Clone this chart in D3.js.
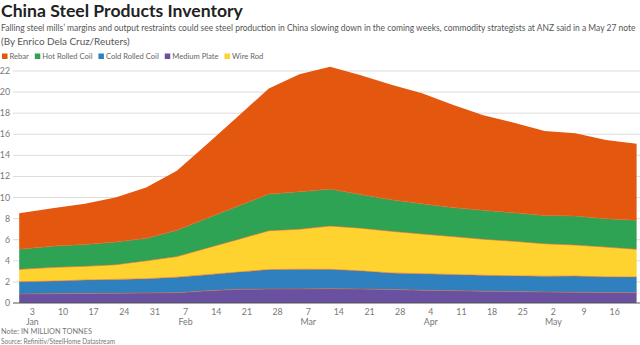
<!DOCTYPE html>
<html>
<head>
<meta charset="utf-8">
<script src="https://cdn.jsdelivr.net/npm/d3@7"></script>
<style>
  body { margin: 0; background: #fff; }
  svg { display: block; font-family: Lato, "Open Sans", sans-serif; }
  .title { font-weight: 700; font-size: 17.6px; fill: #222; }
  .sub { font-size: 9.9px; fill: #555; }
  .legend text { font-size: 7.6px; fill: #666; }
  .axis text { font-size: 8.8px; fill: #777; }
  .note { font-size: 7.4px; fill: #777; }
</style>
</head>
<body>
<div id="chart"></div>
<script>
// Weekly inventory, million tonnes (Fridays)
const dates = ['2020-12-31', '2021-01-08', '2021-01-15', '2021-01-22', '2021-01-29', '2021-02-05',
    '2021-02-12', '2021-02-19', '2021-02-26', '2021-03-05', '2021-03-12', '2021-03-19', '2021-03-26',
    '2021-04-02', '2021-04-09', '2021-04-16', '2021-04-23', '2021-04-30', '2021-05-07', '2021-05-14', '2021-05-21']

const mediumPlate   = [0.85, 0.88, 0.90, 0.92, 0.95, 0.98, 1.15, 1.30, 1.32, 1.33, 1.35, 1.32, 1.27, 1.22, 1.17, 1.12, 1.08, 1.04, 1.03, 1.00, 0.98]
const coldRolled    = [1.17, 1.20, 1.28, 1.32, 1.35, 1.47, 1.54, 1.63, 1.85, 1.87, 1.84, 1.73, 1.58, 1.56, 1.53, 1.51, 1.50, 1.50, 1.52, 1.48, 1.48]
const wireRod       = [1.17, 1.30, 1.30, 1.39, 1.70, 1.95, 2.53, 3.10, 3.68, 3.80, 4.11, 4.05, 3.95, 3.77, 3.60, 3.42, 3.27, 3.08, 2.95, 2.82, 2.64]
const hotRolled     = [1.91, 2.02, 2.07, 2.15, 2.13, 2.50, 2.83, 3.17, 3.48, 3.55, 3.50, 3.20, 3.00, 2.85, 2.75, 2.75, 2.70, 2.68, 2.75, 2.70, 2.75]
const rebar         = [3.40, 3.60, 3.85, 4.22, 4.82, 5.65, 7.05, 8.50, 10.02, 11.15, 11.60, 11.30, 10.90, 10.50, 9.75, 9.00, 8.55, 8.00, 7.85, 7.45, 7.25]

const seriesNames  = ['Rebar', 'Hot Rolled Coil', 'Cold Rolled Coil', 'Medium Plate', 'Wire Rod']
const seriesColors = ['#e4570e', '#2fa354', '#2f80bf', '#6a50a0', '#fed330']
// bottom to top
const stackOrder = ['Medium Plate', 'Cold Rolled Coil', 'Wire Rod', 'Hot Rolled Coil', 'Rebar']

const yTicks = [0, 2, 4, 6, 8, 10, 12, 14, 16, 18, 20, 22]
const monthLabels = { '2021-01-03': 'Jan', '2021-02-07': 'Feb', '2021-03-07': 'Mar', '2021-04-04': 'Apr', '2021-05-02': 'May' }

const W = 640, H = 345
const parse = d3.timeParse('%Y-%m-%d')
const fmtKey = d3.timeFormat('%Y-%m-%d')

const rows = dates.map((d, i) => ({
    date: parse(d),
    'Medium Plate': mediumPlate[i],
    'Cold Rolled Coil': coldRolled[i],
    'Wire Rod': wireRod[i],
    'Hot Rolled Coil': hotRolled[i],
    'Rebar': rebar[i],
}))

const color = d3.scaleOrdinal().domain(seriesNames).range(seriesColors)

const x = d3.scaleTime()
    .domain(d3.extent(rows, d => d.date))
    .range([19.2, 636.6])

const y = d3.scaleLinear()
    .domain([0, 22])
    .range([303, 71])

const svg = d3.select('#chart').append('svg')
    .attr('width', W)
    .attr('height', H)

// Headings //
svg.append('text').attr('class', 'title').attr('x', 1).attr('y', 16.5).text('China Steel Products Inventory')

// the long subtitle is squeezed horizontally so it fits on one line
const sub = svg.append('text').attr('class', 'sub')
    .text('Falling steel mills\u2019 margins and output restraints could see steel production in China slowing down in the coming weeks, commodity strategists at ANZ said in a May 27 note')
const subWidth = sub.node().getComputedTextLength()
sub.attr('transform', `translate(1,30.5) scale(${634 / subWidth},1)`)

svg.append('text').attr('class', 'sub').attr('x', 1).attr('y', 44.5).text('(By Enrico Dela Cruz/Reuters)')

// Legend //
const legend = svg.append('g').attr('class', 'legend').attr('transform', 'translate(2,53.5)')
let lx = 0
seriesNames.forEach(name => {
    const g = legend.append('g').attr('transform', `translate(${lx},0)`)
    g.append('rect').attr('width', 5.5).attr('height', 5.5).attr('fill', color(name))
    const t = g.append('text').attr('x', 7.5).attr('y', 5.5).text(name)
    lx += 7.5 + t.node().getComputedTextLength() + 6
})

// Grid //
const grid = svg.append('g')
grid.selectAll('line')
    .data(yTicks.filter(v => v > 0))
    .enter()
    .append('line')
        .attr('x1', 13).attr('x2', W)
        .attr('y1', d => y(d)).attr('y2', d => y(d))
        .attr('stroke', '#dcdcdc')
        .attr('stroke-width', 1)

// Stacked areas //
const stacked = d3.stack().keys(stackOrder)(rows)

const area = d3.area()
    .x(d => x(d.data.date))
    .y0(d => y(d[0]))
    .y1(d => y(d[1]))

svg.append('g').selectAll('path')
    .data(stacked)
    .enter()
    .append('path')
        .attr('d', area)
        .attr('fill', d => color(d.key))

const topLine = d3.line()
    .x(d => x(d.data.date))
    .y(d => y(d[1]))

svg.append('g').selectAll('path')
    .data(stacked.slice(0, 4))
    .enter()
    .append('path')
        .attr('d', topLine)
        .attr('fill', 'none')
        .attr('stroke', '#e0642a')
        .attr('stroke-opacity', 0.75)
        .attr('stroke-width', 0.8)

// Axes //
const yAxis = svg.append('g').attr('class', 'axis')
yAxis.selectAll('text')
    .data(yTicks)
    .enter()
    .append('text')
        .attr('x', 10)
        .attr('y', d => y(d) + 3)
        .attr('text-anchor', 'end')
        .text(d => d)

svg.append('line')
    .attr('x1', 13).attr('x2', W)
    .attr('y1', y(0)).attr('y2', y(0))
    .attr('stroke', '#555')
    .attr('stroke-width', 1)

const weekTicks = d3.timeWeek.range(parse('2021-01-03'), parse('2021-05-17'))
const xAxis = svg.append('g').attr('class', 'axis')
xAxis.selectAll('.day')
    .data(weekTicks)
    .enter()
    .append('text')
        .attr('class', 'day')
        .attr('x', d => x(d))
        .attr('y', 315)
        .attr('text-anchor', 'middle')
        .text(d => d.getDate())

xAxis.selectAll('.month')
    .data(weekTicks.filter(d => monthLabels[fmtKey(d)]))
    .enter()
    .append('text')
        .attr('class', 'month')
        .attr('x', d => x(d))
        .attr('y', 325)
        .attr('text-anchor', 'middle')
        .text(d => monthLabels[fmtKey(d)])

// Footnotes //
svg.append('text').attr('class', 'note').attr('x', 1).attr('y', 334).text('Note: IN MILLION TONNES')
svg.append('text').attr('class', 'note').attr('x', 1).attr('y', 343.5)
    .attr('textLength', 114).attr('lengthAdjust', 'spacingAndGlyphs')
    .text('Source: Refinitiv/SteelHome Datastream')
</script>
</body>
</html>
